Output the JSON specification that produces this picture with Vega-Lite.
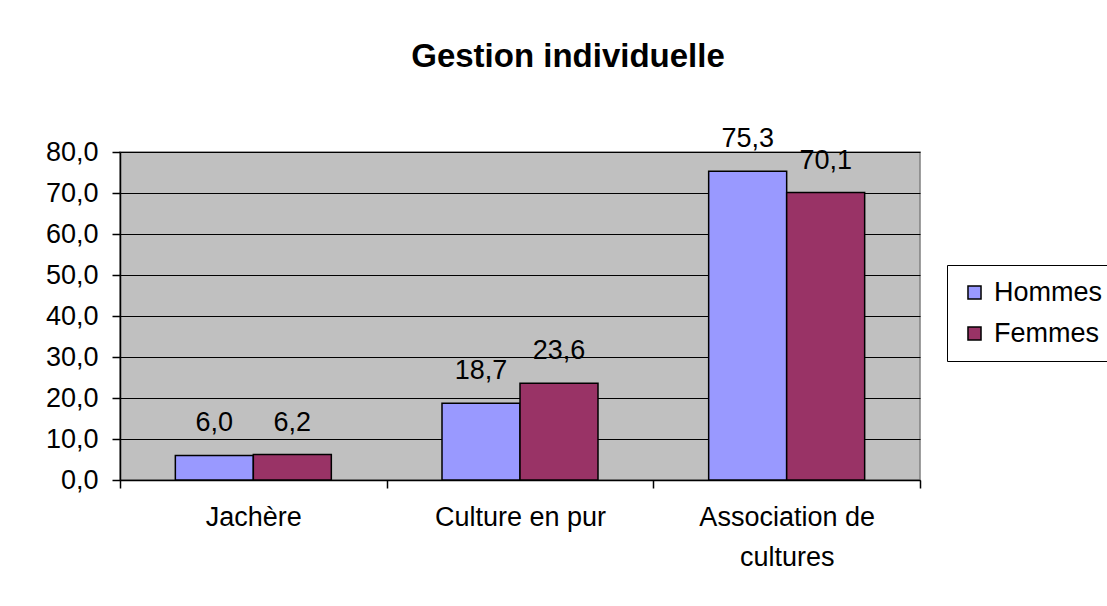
{
  "$schema": "https://vega.github.io/schema/vega-lite/v6.json",
  "width": 800,
  "height": 328,
  "autosize": "none",
  "padding": {"left": 120, "top": 152, "right": 187, "bottom": 126},
  "background": "white",
  "title": {
    "text": "Gestion individuelle",
    "font": "Liberation Sans",
    "fontSize": 33,
    "fontWeight": "bold",
    "color": "black",
    "anchor": "middle",
    "dx": 48,
    "offset": 51
  },
  "data": {
    "values": [
      {"categorie": "Jachère", "sexe": "Hommes", "valeur": 6.0},
      {"categorie": "Jachère", "sexe": "Femmes", "valeur": 6.2},
      {"categorie": "Culture en pur", "sexe": "Hommes", "valeur": 18.7},
      {"categorie": "Culture en pur", "sexe": "Femmes", "valeur": 23.6},
      {"categorie": "Association de cultures", "sexe": "Hommes", "valeur": 75.3},
      {"categorie": "Association de cultures", "sexe": "Femmes", "valeur": 70.1}
    ]
  },
  "encoding": {
    "x": {
      "field": "categorie",
      "type": "nominal",
      "sort": ["Jachère", "Culture en pur", "Association de cultures"],
      "scale": {"paddingInner": 0, "paddingOuter": 0},
      "axis": {
        "title": null,
        "labelAngle": 0,
        "tickBand": "extent",
        "tickSize": 8,
        "tickColor": "black",
        "domainColor": "black",
        "labelFontSize": 27,
        "labelFont": "Liberation Sans",
        "labelColor": "black",
        "labelPadding": 16,
        "labelLineHeight": 40,
        "labelExpr": "datum.value == 'Association de cultures' ? ['Association de', 'cultures'] : datum.value"
      }
    },
    "xOffset": {
      "field": "sexe",
      "type": "nominal",
      "sort": ["Hommes", "Femmes"],
      "scale": {"paddingInner": 0, "paddingOuter": 0.7095}
    },
    "y": {
      "field": "valeur",
      "type": "quantitative",
      "scale": {"domain": [0, 80], "nice": false},
      "axis": {
        "title": null,
        "values": [0, 10, 20, 30, 40, 50, 60, 70, 80],
        "format": ".1f",
        "grid": true,
        "gridColor": "black",
        "gridWidth": 1,
        "gridOpacity": 1,
        "tickSize": 8,
        "tickColor": "black",
        "domainColor": "black",
        "labelFontSize": 27,
        "labelFont": "Liberation Sans",
        "labelColor": "black",
        "labelPadding": 14
      }
    }
  },
  "layer": [
    {
      "mark": {"type": "bar", "stroke": "black", "strokeWidth": 1.5},
      "encoding": {
        "color": {
          "field": "sexe",
          "type": "nominal",
          "sort": ["Hommes", "Femmes"],
          "scale": {"domain": ["Hommes", "Femmes"], "range": ["#9999FF", "#993366"]},
          "legend": {
            "title": null,
            "orient": "none",
            "legendX": 827,
            "legendY": 113,
            "symbolType": "square",
            "symbolSize": 170,
            "symbolStrokeColor": "black",
            "symbolStrokeWidth": 1.5,
            "symbolOpacity": 1,
            "labelFontSize": 27,
            "labelFont": "Liberation Sans",
            "labelColor": "black",
            "labelOffset": 6,
            "rowPadding": 13,
            "padding": 14,
            "strokeColor": "black",
            "fillColor": "white"
          }
        }
      }
    },
    {
      "mark": {
        "type": "text",
        "baseline": "bottom",
        "dy": -18,
        "fontSize": 27,
        "font": "Liberation Sans",
        "color": "black"
      },
      "encoding": {
        "text": {"field": "valeur", "type": "quantitative", "format": ".1f"}
      }
    }
  ],
  "config": {
    "locale": {
      "number": {"decimal": ",", "thousands": " ", "grouping": [3], "currency": ["", " €"]}
    },
    "view": {"fill": "#C0C0C0", "stroke": "#808080", "strokeWidth": 1.5},
    "axis": {"domainWidth": 1.5, "tickWidth": 1.5}
  }
}
